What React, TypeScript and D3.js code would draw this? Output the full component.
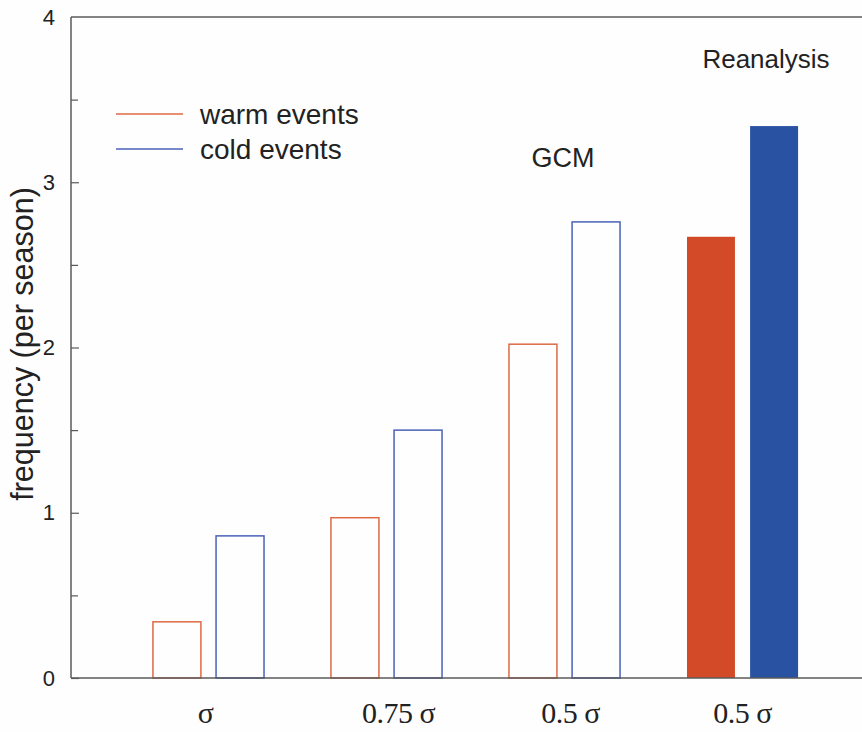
import React, { useRef, useEffect } from "react";
import * as d3 from "d3";

// values
const categories = ["σ", "0.75 σ", "0.5 σ", "0.5 σ"];
const warmValues = [0.34, 0.97, 2.02, 2.67];
const coldValues = [0.86, 1.5, 2.76, 3.34];
const isReanalysis = [false, false, false, true];
const majorTicks = [0, 1, 2, 3, 4];
const minorTicks = [0.5, 1.5, 2.5, 3.5];
const seriesKeys = ["warm", "cold"];
const legendLabels = ["warm events", "cold events"];

const sans = "Liberation Sans, Arial, sans-serif";

const App = () => {
  const svgRef = useRef<SVGSVGElement>(null);

  useEffect(() => {
    const width = 862;
    const height = 732;
    const left = 71;
    const top = 17;
    const bottom = 678;

    const svg = d3.select(svgRef.current).attr("width", width).attr("height", height);
    svg.selectAll("*").remove();

    svg.append("rect").attr("width", width).attr("height", height).attr("fill", "#fefefe");

    const yScale = d3.scaleLinear().domain([0, 4]).range([bottom, top]);

    // groups across the x axis
    const xScale = d3
      .scaleBand<number>()
      .domain(d3.range(categories.length))
      .range([86, 865])
      .paddingInner(0.376)
      .paddingOuter(0.376);

    const inner = d3.scaleBand<string>().domain(seriesKeys).range([0, xScale.bandwidth()]).paddingInner(0.24);

    const axisColor = "#5a5a5a";

    // frame lines
    svg.append("line").attr("x1", left).attr("x2", left).attr("y1", top).attr("y2", bottom)
      .attr("stroke", axisColor).attr("stroke-width", 1.5);
    svg.append("line").attr("x1", left).attr("x2", width).attr("y1", top).attr("y2", top)
      .attr("stroke", axisColor).attr("stroke-width", 1.5);

    // y axis ticks (inward) and labels
    const yAxis = svg.append("g").attr("transform", `translate(${left},0)`)
      .call(d3.axisLeft(yScale).tickValues(majorTicks).tickSizeInner(-8).tickSizeOuter(0).tickPadding(16).tickFormat(d3.format("d")));
    yAxis.select(".domain").remove();
    yAxis.selectAll("line").attr("stroke", axisColor).attr("stroke-width", 1.2);
    yAxis.selectAll("text").attr("font-family", sans).attr("font-size", 22).attr("fill", "#222");
    yAxis.selectAll(".tick").filter((d) => d === 4).select("line").remove();

    const yMinor = svg.append("g").attr("transform", `translate(${left},0)`)
      .call(d3.axisLeft(yScale).tickValues(minorTicks).tickSizeInner(-7).tickSizeOuter(0).tickFormat(() => ""));
    yMinor.select(".domain").remove();
    yMinor.selectAll("line").attr("stroke", axisColor).attr("stroke-width", 1.2);

    // y axis title
    svg.append("text")
      .attr("transform", `translate(33,344) rotate(-90)`)
      .attr("text-anchor", "middle")
      .attr("font-family", sans)
      .attr("font-size", 30.5)
      .attr("fill", "#222")
      .text("frequency (per season)");

    // bars
    const warmOutline = "#dd6a45";
    const coldOutline = "#4a62b8";
    const warmFill = "#d24a27";
    const coldFill = "#2a52a3";

    categories.forEach((_, i) => {
      const g = svg.append("g").attr("transform", `translate(${xScale(i)},0)`);
      [warmValues[i], coldValues[i]].forEach((v, j) => {
        const key = seriesKeys[j];
        const filled = isReanalysis[i];
        const outline = j === 0 ? warmOutline : coldOutline;
        const fill = j === 0 ? warmFill : coldFill;
        g.append("rect")
          .attr("x", inner(key)!)
          .attr("y", yScale(v))
          .attr("width", inner.bandwidth())
          .attr("height", yScale(0) - yScale(v))
          .attr("fill", filled ? fill : "none")
          .attr("stroke", filled ? "none" : outline)
          .attr("stroke-width", 1.5);
      });
    });

    // x axis baseline
    svg.append("line").attr("x1", left).attr("x2", width).attr("y1", bottom).attr("y2", bottom)
      .attr("stroke", axisColor).attr("stroke-width", 1.5);

    // category labels (serif), nudged like the original lettering
    const labelShift = [-3, 12, 6, 0];
    svg.append("g").selectAll("text")
      .data(categories)
      .join("text")
      .attr("x", (_, i) => xScale(i)! + xScale.bandwidth() / 2 + labelShift[i])
      .attr("y", 723)
      .attr("text-anchor", "middle")
      .attr("font-family", "Liberation Serif, Times New Roman, serif")
      .attr("font-size", 30)
      .attr("letter-spacing", -0.5)
      .attr("fill", "#222")
      .text((d) => d);

    // group annotations
    svg.append("text")
      .attr("x", 563)
      .attr("y", 167)
      .attr("text-anchor", "middle")
      .attr("font-family", sans)
      .attr("font-size", 27)
      .attr("fill", "#222")
      .text("GCM");
    svg.append("text")
      .attr("x", 766)
      .attr("y", 68)
      .attr("text-anchor", "middle")
      .attr("font-family", sans)
      .attr("font-size", 26)
      .attr("fill", "#222")
      .text("Reanalysis");

    // legend
    const legend = svg.append("g").attr("transform", "translate(116,114)");
    legendLabels.forEach((label, i) => {
      const y = i * 35;
      legend.append("line").attr("x1", 0).attr("x2", 67).attr("y1", y).attr("y2", y)
        .attr("stroke", i === 0 ? warmOutline : coldOutline).attr("stroke-width", 1.5);
      legend.append("text").attr("x", 84).attr("y", y + 10)
        .attr("font-family", sans)
        .attr("font-size", 28)
        .attr("fill", "#222")
        .text(label);
    });
  }, []);

  return (
    <svg ref={svgRef} style={{ position: "absolute", left: 0, top: 0, display: "block" }} />
  );
};

export default App;
